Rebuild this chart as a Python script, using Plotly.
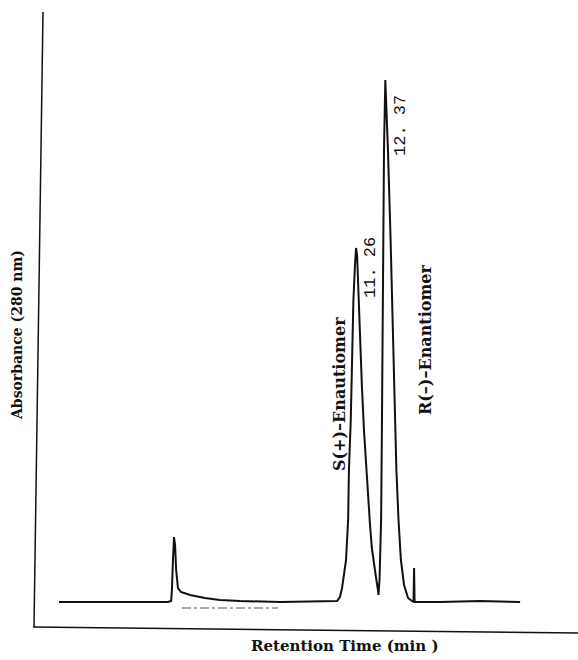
import plotly.graph_objects as go

# Chromatogram trace (retention time in min, absorbance in arbitrary units; tallest peak = 100)
time_min = [0.00, 1.55, 3.07, 4.13, 4.25, 4.28, 4.32, 4.36, 4.40, 4.44, 4.51, 4.62, 4.97,
            5.53, 6.10, 6.86, 8.38, 10.54, 10.65, 10.73, 10.80, 10.88, 10.96, 10.99, 11.06,
            11.11, 11.16, 11.22, 11.26, 11.30, 11.33, 11.41, 11.48, 11.56, 11.64, 11.71,
            11.79, 11.86, 11.94, 12.02, 12.09, 12.11, 12.15, 12.21, 12.24, 12.29, 12.32,
            12.37, 12.38, 12.47, 12.57, 12.74, 12.79, 12.87, 12.96, 13.08, 13.23, 13.38,
            13.44, 13.46, 13.48, 14.44, 15.96, 17.48]
absorbance = [0.0, 0.0, 0.0, 0.0, 0.19, 2.30, 8.05, 12.45, 10.92, 6.13, 2.68, 1.92, 1.34,
              0.77, 0.38, 0.19, 0.0, 0.19, 0.96, 2.68, 5.17, 8.05, 15.71, 25.29, 34.87,
              48.28, 57.85, 64.56, 67.82, 66.48, 61.69, 52.11, 41.57, 32.95, 26.25, 19.54,
              14.75, 10.34, 7.09, 4.60, 2.30, 1.34, 4.21, 15.71, 32.95, 69.35, 86.59,
              100.0, 98.1, 86.59, 69.35, 34.87, 25.29, 15.71, 8.05, 3.26, 0.77, 0.19,
              0.0, 6.51, 0.0, 0.0, 0.19, 0.0]

# faint dashed marker line under the baseline
dash_time = [4.66, 8.30]
dash_abs = [-1.15, -1.15]

peak_labels = ["11. 26", "12. 37"]
enantiomer_labels = ["S(+)\u2013Enautiomer", "R(\u2013)\u2013Enantiomer"]
x_title = "Retention Time (min )"
y_title = "Absorbance (280 nm)"

fig = go.Figure()
fig.add_trace(go.Scatter(x=time_min, y=absorbance, mode="lines",
                         line=dict(color="#111111", width=2), hoverinfo="skip"))
fig.add_trace(go.Scatter(x=dash_time, y=dash_abs, mode="lines",
                         line=dict(color="#555555", width=1, dash="dashdot"), hoverinfo="skip"))

W, H = 578, 660
L, R, T, B = 34, 0, 12, 33
pw, ph = W - L - R, H - T - B


def px(xp):
    return (xp - L) / pw


def py(yp):
    return (H - B - yp) / ph


# hand-drawn looking axes (slightly tilted as in the scanned figure)
fig.add_shape(type="line", xref="paper", yref="paper", x0=px(43), y0=py(12), x1=px(34), y1=py(627),
              line=dict(color="#111111", width=1.5))
fig.add_shape(type="line", xref="paper", yref="paper", x0=px(33), y0=py(627), x1=px(578), y1=py(633),
              line=dict(color="#111111", width=1.5))

serif = "DejaVu Serif"


def label(xp, yp, text, size, family, angle=-90):
    fig.add_annotation(xref="paper", yref="paper", x=px(xp), y=py(yp), text=text,
                       textangle=angle, showarrow=False, xanchor="center", yanchor="middle",
                       font=dict(family=family, size=size, color="#111111"))


label(17, 335, "<b>%s</b>" % y_title, 14, serif)
label(345, 646, "<b>%s</b>" % x_title, 15, serif, angle=0)
label(339, 394, "<b>%s</b>" % enantiomer_labels[0], 16, serif)
label(425, 340, "<b>%s</b>" % enantiomer_labels[1], 16, serif)
label(370, 268, peak_labels[0], 17, "Liberation Mono")
label(400, 126, peak_labels[1], 17, "Liberation Mono")

fig.update_layout(
    width=W, height=H,
    margin=dict(l=L, r=R, t=T, b=B),
    paper_bgcolor="white", plot_bgcolor="white",
    showlegend=False,
    xaxis=dict(range=[-0.948, 19.674], visible=False, fixedrange=True),
    yaxis=dict(range=[-4.79, 113.03], visible=False, fixedrange=True),
)

fig.write_html("out.html")
